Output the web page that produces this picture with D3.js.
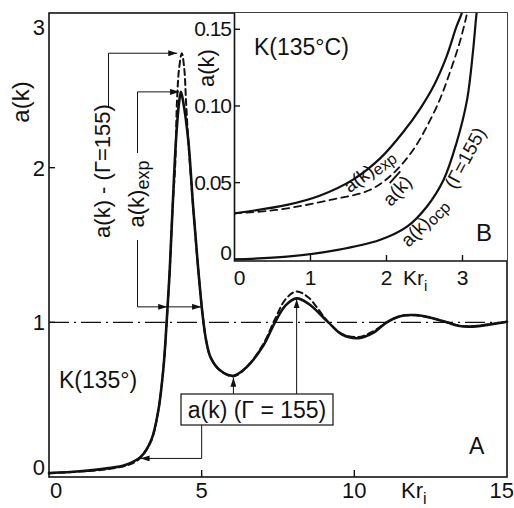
<!DOCTYPE html>
<html>
<head>
<meta charset="utf-8">
<script src="https://d3js.org/d3.v7.min.js"></script>
<style>
  body { margin: 0; background: #fff; }
  text { font-family: "Liberation Sans", Arial, sans-serif; fill: #111; }
  .curve { fill: none; stroke: #111; stroke-linejoin: round; stroke-linecap: round; }
  .frame { fill: none; stroke: #111; stroke-width: 1.6; }
  .tick { stroke: #111; stroke-width: 1.4; }
  .lead { fill: none; stroke: #111; stroke-width: 1; }
</style>
</head>
<body>
<svg id="chart" width="514" height="508"></svg>
<script>
// ---- panel A : a(k) vs K r_i ----
var kExp = [0, 1, 1.9, 2.5, 3.0, 3.35, 3.58, 3.75, 3.85, 3.95, 4.05, 4.16, 4.26, 4.32, 4.40, 4.56, 4.72, 4.88, 5.03, 5.15, 5.3, 5.6, 6.04, 6.47, 7.02, 7.4, 7.75, 8.11, 8.5, 9.15, 9.6, 10.13, 10.6, 11.06, 11.5, 11.99, 12.5, 13.03, 13.4, 13.79, 14.4, 15];
var aExp = [0.025, 0.037, 0.056, 0.078, 0.13, 0.24, 0.43, 0.71, 0.99, 1.32, 1.75, 2.18, 2.42, 2.49, 2.42, 2.18, 1.75, 1.36, 1.05, 0.88, 0.77, 0.69, 0.655, 0.71, 0.85, 1.0, 1.11, 1.155, 1.12, 1.0, 0.92, 0.897, 0.93, 1.0, 1.04, 1.047, 1.03, 1.0, 0.978, 0.972, 0.985, 1.004];

// dashed: one component plasma, Gamma = 155
var kOcp = [0, 1, 1.9, 2.5, 2.8, 3.0, 3.35, 3.58, 3.75, 3.85, 3.95, 4.05, 4.13, 4.19, 4.26, 4.35, 4.43, 4.49, 4.56, 4.72, 4.88, 5.03, 5.15, 5.3, 5.6, 6.04, 6.47, 7.02, 7.4, 7.75, 8.11, 8.5, 8.8, 9.15, 9.6, 10.13, 10.6, 11.06, 11.5, 11.99, 12.5, 13.03, 13.4, 13.79, 14.4, 15];
var aOcp = [0.025, 0.035, 0.05, 0.072, 0.095, 0.125, 0.235, 0.43, 0.71, 0.99, 1.32, 1.75, 2.0, 2.42, 2.64, 2.74, 2.64, 2.42, 2.18, 1.75, 1.36, 1.05, 0.88, 0.77, 0.69, 0.65, 0.71, 0.86, 1.02, 1.15, 1.20, 1.16, 1.09, 1.0, 0.925, 0.905, 0.94, 1.0, 1.04, 1.045, 1.03, 1.0, 0.98, 0.975, 0.987, 1.004];

var xTicks = [0, 5, 10, 15];
var yTicks = [0, 1, 2, 3];

// ---- panel B (inset) : small k ----
var kInExp = [0, 0.69, 1.12, 1.56, 1.92, 2.22, 2.44, 2.62, 2.79, 2.92, 2.99, 3.05];
var aInExp = [0.030, 0.0355, 0.0415, 0.052, 0.066, 0.083, 0.098, 0.113, 0.1322, 0.1517, 0.1604, 0.17];
var kInBar = [0, 0.555, 1.26, 1.78, 2.09, 2.35, 2.53, 2.70, 2.83, 2.96, 3.05, 3.1];
var aInBar = [0.030, 0.0322, 0.0387, 0.0452, 0.0561, 0.0713, 0.0865, 0.1040, 0.1213, 0.1409, 0.1582, 0.17];
var kInOcp = [0, 0.69, 1.34, 1.91, 2.27, 2.53, 2.75, 2.92, 3.06, 3.14, 3.18, 3.21];
var aInOcp = [0, 0.0017, 0.006, 0.0126, 0.0213, 0.0343, 0.0517, 0.0757, 0.104, 0.1365, 0.158, 0.17];

var xInTicks = [0, 1, 2, 3];
var yInTicks = [0, 0.05, 0.10, 0.15];
var yInLabels = ["0", "0.05", "0.10", "0.15"];

var svg = d3.select("#chart");

var x = d3.scaleLinear().domain([0, 15]).range([49, 507]);
var y = d3.scaleLinear().domain([0, 3]).range([477, 13]);
var xi = d3.scaleLinear().domain([0, 1]).range([234.5, 310.5]);
var yi = d3.scaleLinear().domain([0, 0.15]).range([259.3, 29.3]);

var defs = svg.append("defs");
defs.append("marker")
    .attr("id", "arr")
    .attr("markerUnits", "userSpaceOnUse")
    .attr("markerWidth", 9).attr("markerHeight", 6)
    .attr("refX", 9).attr("refY", 3)
    .attr("orient", "auto")
  .append("path").attr("d", "M0,0 L9,3 L0,6 Z").attr("fill", "#111");
defs.append("clipPath").attr("id", "inclip")
  .append("rect").attr("x", 234.5).attr("y", 13).attr("width", 507 - 234.5).attr("height", 248);

function pts(ks, as) { return ks.map(function(k, i) { return [k, as[i]]; }); }

var line = d3.line().x(function(d) { return x(d[0]); }).y(function(d) { return y(d[1]); })
    .curve(d3.curveCatmullRom.alpha(0.5));
var lineIn = d3.line().x(function(d) { return xi(d[0]); }).y(function(d) { return yi(d[1]); })
    .curve(d3.curveCatmullRom.alpha(0.5));

// a = 1 reference, dash-dot
svg.append("line")
    .attr("x1", x(0)).attr("x2", x(15)).attr("y1", y(1)).attr("y2", y(1))
    .attr("stroke", "#111").attr("stroke-width", 1.2)
    .attr("stroke-dasharray", "20,5,2,5");

svg.append("path").attr("class", "curve").attr("stroke-width", 2.6)
    .attr("d", line(pts(kExp, aExp)));
svg.append("path").attr("class", "curve").attr("stroke-width", 2)
    .attr("stroke-dasharray", "6,4")
    .attr("d", line(pts(kOcp, aOcp)));

// main frame
svg.append("rect").attr("class", "frame")
    .attr("x", x(0)).attr("y", y(3)).attr("width", x(15) - x(0)).attr("height", y(0) - y(3));

svg.selectAll(".xt").data(xTicks.slice(1, 3)).enter().append("line").attr("class", "tick")
    .attr("x1", function(d) { return x(d); }).attr("x2", function(d) { return x(d); })
    .attr("y1", y(0)).attr("y2", y(0) - 7);
svg.selectAll(".yt").data(yTicks.slice(1, 3)).enter().append("line").attr("class", "tick")
    .attr("x1", x(0)).attr("x2", x(0) + 6)
    .attr("y1", function(d) { return y(d); }).attr("y2", function(d) { return y(d); });

// tick labels (ends nudged inward like the original)
var fs = 22;
svg.selectAll(".xl").data(xTicks).enter().append("text")
    .attr("x", function(d, i) { return i == 0 ? x(d) + 1 : (i == 3 ? 514 : x(d)); })
    .attr("y", 498)
    .attr("text-anchor", function(d, i) { return i == 0 ? "start" : (i == 3 ? "end" : "middle"); })
    .attr("font-size", fs).text(function(d) { return d; });
svg.selectAll(".yl").data(yTicks).enter().append("text")
    .attr("x", 45)
    .attr("y", function(d, i) { return i == 0 ? y(d) - 2 : (i == 3 ? y(d) + 22 : y(d) + 8); })
    .attr("text-anchor", "end")
    .attr("font-size", fs).text(function(d) { return d; });

var kr = svg.append("text").attr("x", 401).attr("y", 498).attr("font-size", fs).text("Kr");
kr.append("tspan").attr("dy", 6).attr("font-size", 16).text("i");

svg.append("text").attr("transform", "translate(29,102) rotate(-90)")
    .attr("text-anchor", "middle").attr("font-size", 24).text("a(k)");

svg.append("text").attr("x", 59).attr("y", 388).attr("font-size", 23).text("K(135°)");
svg.append("text").attr("x", 469).attr("y", 454).attr("font-size", 23).text("A");

// ---- leader lines, panel A ----
svg.append("path").attr("class", "lead").attr("marker-end", "url(#arr)")
    .attr("d", "M108.5,108 V" + y(2.74) + " H" + x(4.2));
svg.append("path").attr("class", "lead").attr("marker-end", "url(#arr)")
    .attr("d", "M137.5,153 V" + y(2.49) + " H" + x(4.26));
svg.append("path").attr("class", "lead").attr("marker-end", "url(#arr)")
    .attr("d", "M137.5,240 V" + y(1.1) + " H" + x(3.87));
svg.append("path").attr("class", "lead").attr("marker-end", "url(#arr)")
    .attr("d", "M" + x(3.87) + "," + y(1.1) + " H" + x(4.98));

svg.append("text").attr("transform", "translate(110,171) rotate(-90)")
    .attr("text-anchor", "middle").attr("font-size", 22).text("a(k) - (Γ=155)");
var le = svg.append("text").attr("transform", "translate(144,194) rotate(-90)")
    .attr("text-anchor", "middle").attr("font-size", 22).text("a(k)");
le.append("tspan").attr("dy", 5).attr("font-size", 18).text("exp");

// boxed label with its three leaders
svg.append("rect").attr("x", 181).attr("y", 394).attr("width", 152).attr("height", 31)
    .attr("fill", "#fff").attr("stroke", "#111").attr("stroke-width", 1.2);
svg.append("text").attr("x", 257).attr("y", 418).attr("text-anchor", "middle")
    .attr("font-size", 23).text("a(k) (Γ = 155)");
svg.append("path").attr("class", "lead").attr("marker-end", "url(#arr)")
    .attr("d", "M" + x(6.04) + ",394 V" + (y(0.655) + 2));
svg.append("path").attr("class", "lead").attr("marker-end", "url(#arr)")
    .attr("d", "M" + x(8.11) + ",394 V" + (y(1.155) + 1));
svg.append("path").attr("class", "lead").attr("marker-end", "url(#arr)")
    .attr("d", "M" + x(5.0) + ",425 V" + y(0.12) + " H" + x(3.0));

// ---- inset B ----
svg.append("rect").attr("x", 234.5).attr("y", 13).attr("width", 507 - 234.5).attr("height", 248)
    .attr("fill", "#fff");

var gIn = svg.append("g").attr("clip-path", "url(#inclip)");
gIn.append("path").attr("class", "curve").attr("stroke-width", 2.2).attr("d", lineIn(pts(kInExp, aInExp)));
gIn.append("path").attr("class", "curve").attr("stroke-width", 1.8).attr("stroke-dasharray", "7,5")
    .attr("d", lineIn(pts(kInBar, aInBar)));
gIn.append("path").attr("class", "curve").attr("stroke-width", 2.2).attr("d", lineIn(pts(kInOcp, aInOcp)));

svg.append("path").attr("class", "frame").attr("d", "M234.5,13 V261 H507");

svg.selectAll(".xit").data(xInTicks.slice(1)).enter().append("line").attr("class", "tick")
    .attr("x1", function(d) { return xi(d); }).attr("x2", function(d) { return xi(d); })
    .attr("y1", 261).attr("y2", 255);
svg.selectAll(".yit").data(yInTicks).enter().append("line").attr("class", "tick")
    .attr("x1", 234.5).attr("x2", 240)
    .attr("y1", function(d) { return yi(d); }).attr("y2", function(d) { return yi(d); });

svg.selectAll(".xil").data(xInTicks).enter().append("text")
    .attr("x", function(d, i) { return i == 0 ? xi(d) + 5 : xi(d); })
    .attr("y", 285).attr("text-anchor", "middle")
    .attr("font-size", 21).text(function(d) { return d; });
svg.selectAll(".yil").data(yInTicks).enter().append("text")
    .attr("x", 231)
    .attr("y", function(d, i) { return i == 0 ? yi(d) + 1 : yi(d) + 7; })
    .attr("text-anchor", "end").attr("letter-spacing", -1)
    .attr("font-size", 21).text(function(d, i) { return yInLabels[i]; });

var kri = svg.append("text").attr("x", 403).attr("y", 285).attr("font-size", 21).text("Kr");
kri.append("tspan").attr("dy", 6).attr("font-size", 15).text("i");

svg.append("text").attr("transform", "translate(214,68) rotate(-90)")
    .attr("text-anchor", "middle").attr("font-size", 22).text("a(k)");

svg.append("text").attr("x", 254).attr("y", 55).attr("font-size", 23).text("K(135°C)");
svg.append("text").attr("x", 476).attr("y", 241).attr("font-size", 24).text("B");

var t1 = svg.append("text").attr("transform", "translate(373,176) rotate(-37)")
    .attr("text-anchor", "middle").attr("font-size", 19).text("a(k)");
t1.append("tspan").attr("dy", 3).attr("font-size", 16).text("exp");

var t2 = svg.append("text").attr("transform", "translate(402,195) rotate(-48)")
    .attr("text-anchor", "middle").attr("font-size", 19).text("a(");
t2.append("tspan").attr("text-decoration", "overline").text("k)");

var t3 = svg.append("text").attr("transform", "translate(429,227) rotate(-46)")
    .attr("text-anchor", "middle").attr("font-size", 19).text("a(k)");
t3.append("tspan").attr("dy", 3).attr("font-size", 16).text("ocp");

svg.append("text").attr("transform", "translate(471,161) rotate(-62)")
    .attr("text-anchor", "middle").attr("font-size", 19).text("(Γ=155)");
</script>
</body>
</html>
